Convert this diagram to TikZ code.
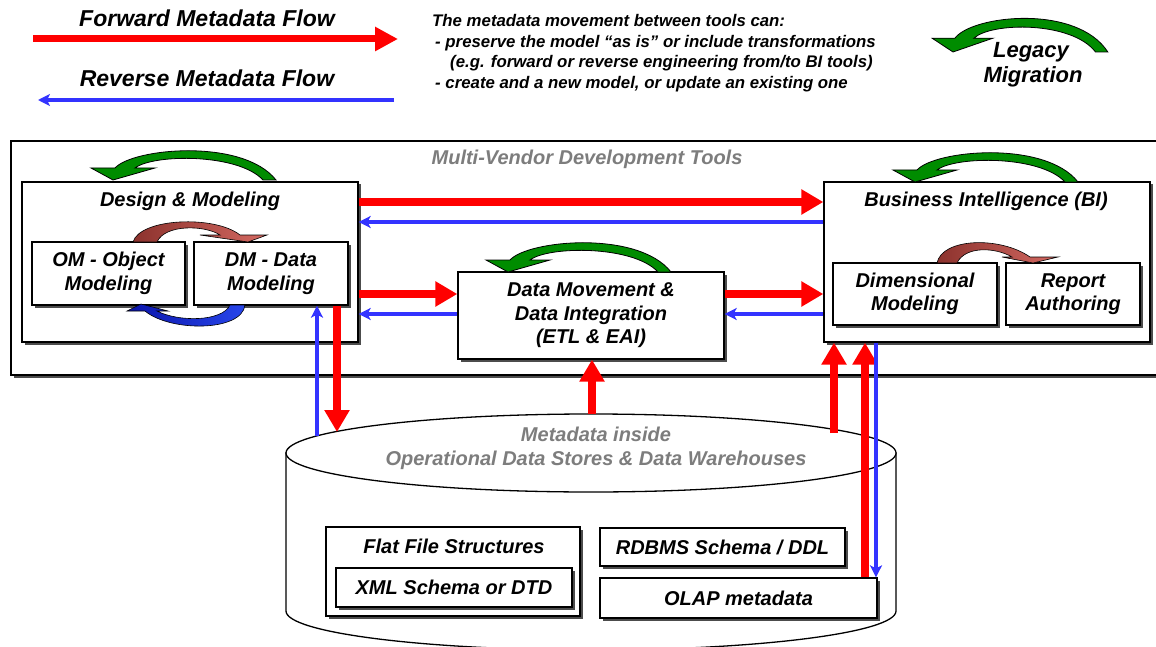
\documentclass[tikz,border=0pt]{standalone}
\usepackage{fontspec}
\setmainfont{Liberation Sans}
\usetikzlibrary{arrows.meta,shadows}
\definecolor{fred}{RGB}{255,0,0}
\definecolor{rblue}{RGB}{51,51,255}
\definecolor{lgreen}{RGB}{0,140,0}
\definecolor{dgrey}{RGB}{125,125,125}
\definecolor{brownL}{RGB}{140,50,45}
\definecolor{brownR}{RGB}{212,105,98}
\definecolor{arcblueL}{RGB}{10,20,170}
\definecolor{arcblueR}{RGB}{40,70,235}
\newcommand\greenarcpath{(-22,-12) -- (2,-12) .. controls (20,-32) and (130,-42) .. (163,0) -- (150,0) .. controls (125,-27) and (40,-26) .. (22,-12) -- (42,-12) -- (0,0) -- cycle}
\begin{document}
\begin{tikzpicture}[x=1pt,y=-1pt,
 lbl/.style={font=\fontsize{20}{24}\selectfont\bfseries\itshape, inner sep=0pt, align=center},
 note/.style={font=\fontsize{16.8}{20}\selectfont\bfseries\itshape, inner sep=0pt},
 panel/.style={lbl, draw=black, line width=1.3pt, fill=white, drop shadow={shadow xshift=2.5pt, shadow yshift=-2.5pt, fill=black!70, opacity=1}},
 fwd/.style={draw=fred, line width=8pt, -{Triangle[length=22pt,width=24pt]}},
 rev/.style={draw=rblue, line width=3.5pt, -{Stealth[length=12pt,width=12pt,inset=3pt]}},
 garc/.style={fill=lgreen, draw=black, line width=0.8pt},
 brownarc/.style={draw=black, line width=0.6pt, left color=brownL, right color=brownR},
 bluearc/.style={draw=black, line width=0.6pt, left color=arcblueL, right color=arcblueR},
]
\useasboundingbox (0,0) rectangle (1156,647);
\clip (0,0) rectangle (1156,647);

% ---------- legend ----------
\node[lbl, font=\fontsize{23}{27}\selectfont\bfseries\itshape, anchor=base] (fwdlabel) at (207,27) {Forward Metadata Flow};
\coordinate (lf1) at (33,39);
\coordinate (lf2) at (398,39);
\draw[fwd, line width=7pt, -{Triangle[length=23pt,width=23pt]}] (lf1) -- (lf2);
\node[lbl, font=\fontsize{23}{27}\selectfont\bfseries\itshape, anchor=base] (revlabel) at (207,87) {Reverse Metadata Flow};
\coordinate (lr1) at (394,100);
\coordinate (lr2) at (38,100);
\draw[rev] (lr1) -- (lr2);

\node[note, anchor=base west] (n1) at (432,27) {The metadata movement between tools can:};
\node[note, anchor=base west] (n2) at (435,48) {- preserve the model “as is” or include transformations};
\node[note, anchor=base west] (n3) at (450,68) {(e.g. forward or reverse engineering from/to BI tools)};
\node[note, anchor=base west] (n4) at (435,89) {- create and a new model, or update an existing one};

\begin{scope}[shift={(953,52)}, xscale=0.95, yscale=1.15]
  \path[garc] \greenarcpath;
\end{scope}
\node[lbl, font=\fontsize{22}{26}\selectfont\bfseries\itshape, anchor=base] (leg1) at (1031,58) {Legacy};
\node[lbl, font=\fontsize{22}{26}\selectfont\bfseries\itshape, anchor=base] (leg2) at (1033,83) {Migration};

% ---------- tools frame ----------
\node[panel, minimum width=1164, minimum height=234] (tools) at (593,258) {};
\node[lbl, text=dgrey, anchor=base] (toolstitle) at (587,165) {Multi-Vendor Development Tools};

% Design & Modeling
\node[panel, minimum width=336, minimum height=160] (dnm) at (190,262) {};
\node[lbl, anchor=base] (dnmtitle) at (190,207) {Design \& Modeling};
\node[panel, minimum width=153, minimum height=63] (om) at (108.5,273.5) {OM - Object\\Modeling};
\node[panel, minimum width=154, minimum height=63] (dm) at (271,273.5) {DM - Data\\Modeling};

% Data movement
\node[panel, minimum width=266, minimum height=87, font=\fontsize{20}{23.5}\selectfont\bfseries\itshape] (dmov) at (591,315.5) {Data Movement \&\\Data Integration\\(ETL \& EAI)};

% BI
\node[panel, minimum width=326, minimum height=160] (bi) at (987,262) {};
\node[lbl, anchor=base] (bititle) at (986,207) {Business Intelligence (BI)};
\node[panel, minimum width=164, minimum height=62, font=\fontsize{20}{23}\selectfont\bfseries\itshape] (dim) at (915,294) {Dimensional\\Modeling};
\node[panel, minimum width=134, minimum height=62, font=\fontsize{20}{23}\selectfont\bfseries\itshape] (rep) at (1073,294) {Report\\Authoring};

% green legacy arcs
\begin{scope}[shift={(113,180)}] \path[garc] \greenarcpath; \end{scope}
\begin{scope}[shift={(508,272)}] \path[garc] \greenarcpath; \end{scope}
\begin{scope}[shift={(915,182)}] \path[garc] \greenarcpath; \end{scope}

% inner arcs
\path[brownarc] (133,242) .. controls (140,218) and (215,215) .. (240,235) -- (267,235) -- (248,242) -- (200,235) -- (220,235) .. controls (205,225) and (165,224) .. (157,242) -- cycle;
\path[bluearc] (245,305) .. controls (242,332) and (170,332) .. (145,311) -- (127,311) -- (141,304) -- (168,311) -- (157,311) .. controls (178,322) and (222,322) .. (230,305) -- cycle;
\path[brownarc] (937,263) .. controls (942,238) and (1000,236) .. (1030,257) -- (1058,257) -- (1033,263) -- (1002,257) -- (1012,257) .. controls (995,247) and (965,246) .. (957,263) -- cycle;

% ---------- cylinder ----------
\path[draw=black, line width=1.3pt, fill=white] (286,453) -- (286,611) arc[start angle=180, end angle=360, x radius=305pt, y radius=39pt] -- (896,453) -- cycle;
\draw[line width=1.3pt, fill=white] (591,453) ellipse[x radius=305pt, y radius=39pt];
\coordinate (cylA) at (317,436);
\coordinate (cylB) at (337,432);
\coordinate (cylC) at (592,414);
\coordinate (cylD) at (834,433);
\node[lbl, text=dgrey] (cyltext) at (596,448) {Metadata inside\\Operational Data Stores \& Data Warehouses};

\node[panel, minimum width=254, minimum height=89] (flat) at (453,571.5) {};
\node[lbl, anchor=base] (flattitle) at (454,553) {Flat File Structures};
\node[panel, minimum width=236, minimum height=39] (xml) at (454,587.5) {XML Schema or DTD};
\node[panel, minimum width=245, minimum height=38] (rdbms) at (722.5,547) {RDBMS Schema / DDL};
\node[panel, minimum width=277, minimum height=40] (olap) at (738.5,598) {OLAP metadata};

% ---------- flows ----------
\draw[fwd] (dnm.east |- 0,202) -- (bi.west |- 0,202);
\draw[rev] (bi.west |- 0,222) -- (dnm.east |- 0,222);
\draw[fwd] (dnm.east |- 0,294) -- (dmov.west |- 0,294);
\draw[rev] (dmov.west |- 0,314) -- (dnm.east |- 0,314);
\draw[fwd] (dmov.east |- 0,294) -- (bi.west |- 0,294);
\draw[rev] (bi.west |- 0,314) -- (dmov.east |- 0,314);

\draw[rev] (cylA) -- (dm.south -| 317,0);
\draw[fwd] (dm.south -| 337,0) -- (cylB);
\draw[fwd] (cylC) -- (dmov.south -| 592,0);
\draw[fwd] (cylD) -- (bi.south -| 834,0);
\draw[fwd] (olap.north -| 865,0) -- (bi.south -| 865,0);
\draw[rev] (bi.south -| 876,0) -- (olap.north -| 876,0);
\end{tikzpicture}
\end{document}
